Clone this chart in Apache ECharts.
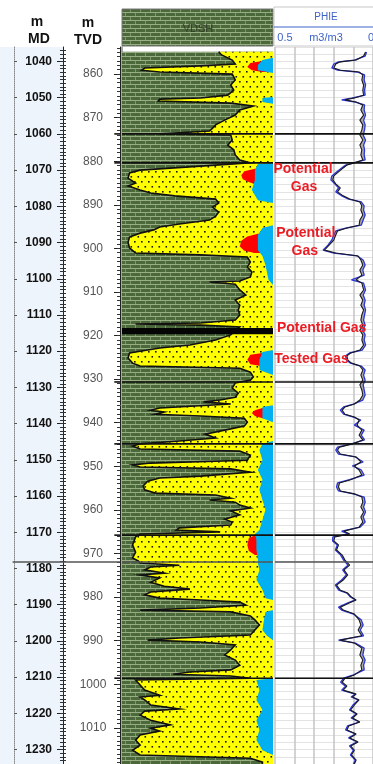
<!DOCTYPE html>
<html><head><meta charset="utf-8">
<script src="https://cdn.jsdelivr.net/npm/echarts@6/dist/echarts.min.js"></script>
<style>html,body{margin:0;padding:0;background:#fff}#c{width:373px;height:764px}</style>
</head><body><div id="c"></div>
<script>
// ---------------- DATA ----------------
const mdTicks = [1040,1050,1060,1070,1080,1090,1100,1110,1120,1130,1140,1150,1160,1170,1180,1190,1200,1210,1220,1230];
const tvdTicks = [860,870,880,890,900,910,920,930,940,950,960,970,980,990,1000,1010];

// VDSH (shale volume, fraction of track, 0 left .. 1 right) vs MD
const vshDepth = [1037.3,1038.2,1039.6,1040.7,1041.2,1041.8,1042.4,1042.9,1043.5,1045.1,1046.5,1047.9,1049.3,1050.1,1050.4,1050.9,1051.5,1052.3,1053.4,1054.8,1056.2,1057.5,1058.4,1059.2,1059.8,1060.0,1060.3,1061.7,1063.1,1064.4,1065.8,1067.2,1068.0,1068.9,1070.0,1070.8,1072.2,1073.6,1074.4,1075.5,1076.3,1077.1,1078.0,1079.1,1080.2,1081.6,1082.7,1083.8,1084.9,1085.7,1086.5,1087.4,1088.5,1089.9,1091.5,1092.9,1093.4,1094.0,1095.4,1096.8,1098.1,1099.5,1100.6,1100.9,1101.5,1103.1,1104.5,1105.9,1107.3,1108.6,1110.0,1111.4,1112.2,1112.5,1112.8,1113.3,1115.5,1116.9,1118.3,1119.1,1120.0,1120.5,1121.9,1123.3,1124.1,1124.7,1125.8,1127.1,1128.0,1128.8,1130.2,1131.6,1132.7,1133.5,1134.0,1134.6,1135.7,1136.3,1136.8,1137.4,1137.9,1138.5,1139.6,1140.7,1141.8,1142.9,1144.0,1144.8,1145.6,1146.2,1147.0,1147.6,1148.7,1150.1,1150.9,1151.4,1152.0,1152.5,1153.4,1154.5,1155.0,1155.9,1157.2,1158.3,1159.2,1159.7,1160.6,1161.1,1161.7,1162.5,1163.3,1164.1,1165.2,1166.4,1167.2,1168.0,1168.8,1169.4,1169.9,1170.5,1171.3,1173.5,1175.5,1177.1,1178.0,1178.5,1179.1,1179.6,1180.4,1181.3,1181.8,1182.6,1183.8,1184.9,1185.7,1186.5,1187.3,1188.2,1188.7,1189.3,1190.1,1190.9,1191.5,1192.0,1193.1,1194.2,1195.6,1197.0,1198.4,1199.2,1199.8,1200.3,1201.1,1202.5,1203.9,1205.3,1206.7,1208.0,1208.6,1209.2,1209.7,1210.3,1210.8,1212.2,1213.6,1215.0,1215.5,1216.3,1217.7,1218.8,1219.4,1220.5,1221.9,1223.2,1224.1,1224.9,1226.0,1227.4,1228.8,1230.2,1231.5,1232.4,1233.5,1234.0];
const vshValue = [0.64,0.66,0.73,0.75,0.52,0.15,0.13,0.25,0.73,0.75,0.72,0.74,0.70,0.52,0.25,0.24,0.72,0.87,0.78,0.75,0.68,0.62,0.60,0.58,0.32,0.25,0.72,0.73,0.70,0.74,0.75,0.78,0.85,0.52,0.12,0.05,0.04,0.09,0.04,0.12,0.19,0.35,0.62,0.64,0.60,0.64,0.62,0.58,0.38,0.25,0.21,0.12,0.05,0.04,0.05,0.09,0.52,0.83,0.85,0.83,0.86,0.85,0.78,0.58,0.75,0.78,0.82,0.75,0.78,0.77,0.78,0.75,0.52,0.09,0.52,0.78,0.72,0.62,0.45,0.25,0.12,0.05,0.04,0.07,0.12,0.78,0.85,0.87,0.85,0.75,0.73,0.77,0.75,0.65,0.54,0.72,0.25,0.19,0.28,0.22,0.52,0.81,0.83,0.81,0.68,0.55,0.62,0.38,0.12,0.07,0.12,0.78,0.85,0.83,0.19,0.07,0.12,0.72,0.85,0.52,0.25,0.17,0.14,0.15,0.22,0.62,0.72,0.58,0.75,0.78,0.85,0.72,0.78,0.68,0.73,0.72,0.38,0.36,0.65,0.12,0.09,0.07,0.09,0.07,0.11,0.12,0.38,0.19,0.15,0.28,0.12,0.25,0.19,0.28,0.45,0.19,0.15,0.25,0.52,0.78,0.82,0.52,0.12,0.72,0.85,0.88,0.91,0.88,0.85,0.38,0.17,0.52,0.75,0.72,0.68,0.75,0.78,0.72,0.45,0.34,0.72,0.85,0.09,0.12,0.15,0.25,0.12,0.15,0.19,0.38,0.15,0.12,0.19,0.32,0.19,0.25,0.12,0.09,0.12,0.07,0.12,0.85,0.93,0.93];

// porosity (blue) left boundary, fraction of track
const poroDepth = [1037.3,1039.0,1039.6,1041.0,1042.4,1043.2,1049.8,1050.1,1051.2,1051.7,1068.0,1068.3,1070.0,1072.7,1075.5,1078.3,1079.1,1085.2,1086.0,1087.9,1092.1,1093.7,1096.2,1100.3,1101.7,1119.7,1120.2,1122.4,1125.2,1126.6,1134.9,1135.4,1138.5,1139.6,1144.8,1145.6,1147.3,1150.1,1152.8,1155.5,1158.3,1161.1,1163.8,1166.6,1169.4,1170.5,1172.1,1174.8,1177.6,1178.5,1180.4,1183.1,1185.9,1188.2,1188.7,1191.5,1192.0,1194.2,1197.0,1198.6,1199.8,1210.3,1210.8,1213.6,1216.3,1219.1,1221.9,1224.6,1227.4,1230.2,1231.5,1234.0];
const poroValue = [1.0,1.0,0.93,0.90,0.90,1.0,1.0,0.93,0.93,1.0,1.0,0.90,0.88,0.88,0.86,0.90,1.0,1.0,0.93,0.90,0.90,0.93,0.95,0.97,1.0,1.0,0.93,0.91,0.91,1.0,1.0,0.93,0.93,1.0,1.0,0.93,0.91,0.93,0.90,0.93,0.91,0.93,0.95,0.93,0.91,0.88,0.89,0.89,0.90,0.90,0.91,0.89,0.93,0.95,1.0,1.0,0.95,0.94,0.93,0.96,1.0,1.0,0.89,0.91,0.89,0.93,0.89,0.91,0.89,0.93,1.0,1.0];

// gas patches: [MD, left edge fraction]
const gasPatch1 = [[1039.9,0.93],[1040.4,0.85],[1041.5,0.83],[1042.4,0.86],[1042.9,0.93]];
const gasPatch2 = [[1069.6,0.88],[1070.3,0.81],[1071.4,0.79],[1072.5,0.80],[1073.3,0.84],[1073.9,0.88]];
const gasPatch3 = [[1087.6,0.90],[1088.3,0.83],[1089.5,0.79],[1091.1,0.78],[1092.3,0.81],[1092.9,0.88]];
const gasPatch4 = [[1120.5,0.93],[1121.0,0.85],[1122.4,0.83],[1123.6,0.85],[1124.1,0.92]];
const gasPatch5 = [[1135.7,0.93],[1136.3,0.88],[1137.1,0.86],[1137.9,0.88],[1138.5,0.93]];
const gasPatch6 = [[1170.8,0.88],[1171.6,0.84],[1173.5,0.83],[1175.2,0.84],[1176.3,0.88]];

const coalTop = [1113.6];
const coalBase = [1115.3];

const topsMD = [1060.0,1068.0,1128.5,1145.6,1170.8,1210.3];
const topGrayMD = [1178.2];

// PHIE curves
const phieDepth = [1037.4,1038.5,1039.6,1040.1,1040.7,1041.8,1042.4,1042.9,1043.7,1045.1,1046.5,1047.9,1049.3,1050.1,1050.6,1051.2,1052.0,1053.4,1054.8,1056.2,1057.5,1058.9,1060.3,1061.7,1063.1,1064.4,1065.8,1067.2,1068.0,1068.6,1069.4,1070.5,1071.6,1072.7,1073.8,1074.9,1076.0,1077.1,1078.0,1078.8,1079.9,1081.0,1082.4,1083.8,1085.2,1086.0,1086.8,1087.9,1089.3,1090.7,1092.1,1092.9,1093.7,1094.8,1096.2,1097.6,1099.0,1100.3,1101.2,1103.1,1104.5,1105.9,1107.3,1108.6,1110.0,1111.4,1112.8,1114.2,1115.5,1116.9,1118.3,1119.7,1120.5,1121.3,1122.4,1123.3,1124.1,1125.2,1126.6,1128.0,1129.3,1130.7,1132.1,1133.5,1134.6,1135.4,1136.3,1137.4,1138.2,1139.0,1140.4,1141.8,1143.2,1144.5,1145.6,1146.5,1147.3,1148.4,1149.2,1150.6,1151.7,1152.8,1154.2,1155.5,1156.4,1157.5,1158.6,1159.4,1160.3,1161.7,1163.0,1164.4,1165.8,1167.2,1168.6,1169.7,1170.5,1171.3,1172.4,1173.5,1174.9,1176.3,1177.7,1179.1,1180.4,1181.8,1183.2,1184.6,1186.0,1186.8,1187.9,1188.7,1189.5,1190.7,1191.5,1192.6,1194.2,1195.6,1197.0,1198.6,1199.8,1200.6,1202.0,1203.9,1205.3,1206.7,1208.0,1209.4,1210.3,1211.4,1212.5,1213.6,1214.7,1215.5,1216.3,1217.7,1219.1,1220.2,1221.3,1222.4,1223.5,1224.6,1225.7,1226.8,1227.9,1229.0,1230.2,1231.5,1232.9,1234.0];
const phieBlack = [0.038,0.048,0.086,0.167,0.190,0.200,0.167,0.071,0.052,0.057,0.048,0.052,0.048,0.095,0.143,0.086,0.052,0.062,0.048,0.067,0.052,0.057,0.067,0.052,0.067,0.057,0.062,0.052,0.095,0.133,0.152,0.176,0.200,0.205,0.190,0.167,0.181,0.152,0.119,0.067,0.057,0.062,0.052,0.067,0.071,0.133,0.181,0.190,0.200,0.224,0.248,0.190,0.076,0.062,0.052,0.067,0.057,0.086,0.057,0.048,0.067,0.052,0.062,0.048,0.057,0.062,0.052,0.067,0.052,0.057,0.048,0.067,0.114,0.133,0.129,0.110,0.067,0.052,0.062,0.052,0.067,0.057,0.052,0.067,0.095,0.143,0.157,0.143,0.095,0.071,0.081,0.057,0.071,0.052,0.105,0.171,0.181,0.167,0.086,0.062,0.095,0.071,0.057,0.114,0.171,0.176,0.167,0.095,0.057,0.052,0.062,0.048,0.062,0.052,0.071,0.148,0.119,0.195,0.200,0.176,0.186,0.157,0.143,0.119,0.148,0.129,0.152,0.186,0.167,0.129,0.110,0.086,0.119,0.167,0.152,0.095,0.071,0.062,0.076,0.057,0.167,0.095,0.057,0.067,0.052,0.062,0.057,0.095,0.143,0.157,0.133,0.152,0.086,0.105,0.071,0.095,0.114,0.081,0.105,0.067,0.124,0.133,0.086,0.119,0.076,0.114,0.095,0.110,0.086,0.095];
const phieBlue = [0.033,0.040,0.095,0.176,0.200,0.210,0.181,0.080,0.043,0.045,0.038,0.043,0.040,0.110,0.160,0.090,0.043,0.045,0.038,0.048,0.040,0.043,0.050,0.038,0.048,0.043,0.045,0.040,0.100,0.140,0.160,0.186,0.210,0.215,0.195,0.176,0.190,0.160,0.124,0.060,0.045,0.048,0.040,0.050,0.060,0.140,0.190,0.200,0.210,0.230,0.255,0.200,0.080,0.050,0.040,0.052,0.045,0.110,0.048,0.038,0.050,0.040,0.045,0.038,0.043,0.048,0.040,0.052,0.040,0.045,0.038,0.055,0.120,0.140,0.136,0.115,0.060,0.040,0.048,0.040,0.050,0.045,0.040,0.052,0.100,0.150,0.167,0.150,0.100,0.062,0.095,0.045,0.060,0.043,0.110,0.181,0.190,0.176,0.090,0.050,0.105,0.060,0.045,0.120,0.181,0.186,0.176,0.100,0.045,0.040,0.048,0.038,0.050,0.040,0.065,0.160,0.125,0.205,0.206,0.182,0.192,0.165,0.150,0.128,0.155,0.136,0.160,0.192,0.175,0.133,0.115,0.090,0.128,0.176,0.160,0.100,0.060,0.050,0.065,0.048,0.176,0.090,0.045,0.052,0.040,0.048,0.045,0.100,0.150,0.165,0.140,0.160,0.090,0.112,0.075,0.102,0.120,0.085,0.112,0.070,0.130,0.140,0.090,0.125,0.080,0.120,0.100,0.115,0.090,0.100];

// annotations
const noteText = ['Potential','Gas','Potential','Gas','Potential Gas','Tested Gas'];
const noteMD = [1069.7,1074.7,1087.4,1092.3,1113.6,1122.2];
const notePhie = [0.357,0.352,0.343,0.348,0.262,0.314];

// ---------------- STYLE HELPERS ----------------
function brickCanvas(){
  const c=document.createElement('canvas'); c.width=10; c.height=8;
  const g=c.getContext('2d');
  g.fillStyle='#4c693b'; g.fillRect(0,0,10,8);
  g.fillStyle='#98ae83'; g.fillRect(0,0,10,1); g.fillRect(0,4,10,1);
  g.fillStyle='#7e9668'; g.fillRect(0,1,1,3); g.fillRect(5,5,1,3);
  return c;
}
function dotCanvas(){
  const c=document.createElement('canvas'); c.width=7; c.height=10;
  const g=c.getContext('2d');
  g.fillStyle='#ffff00'; g.fillRect(0,0,7,10);
  g.fillStyle='#1a1a00';
  g.fillRect(1,1,1.6,1.6); g.fillRect(4.5,6,1.6,1.6);
  return c;
}
const brickPat = {image: brickCanvas(), repeat:'repeat'};
const dotPat = {image: dotCanvas(), repeat:'repeat'};
const FONT = "'Liberation Sans', Arial, sans-serif";
const plain = v => String(v);

const mdMinor=[]; for(let v=1037; v<=1233; v++) mdMinor.push(v);
const tvdMinor=[]; for(let v=854; v<=1018; v++) tvdMinor.push(v);

const gasPatches = [gasPatch1,gasPatch2,gasPatch3,gasPatch4,gasPatch5,gasPatch6];

function renderVdsh(params, api){
  const ch=[];
  const top=vshDepth[0], bot=vshDepth[vshDepth.length-1];
  ch.push({type:'polygon', shape:{points:[api.coord([0,top]),api.coord([1,top]),api.coord([1,bot]),api.coord([0,bot])]}, style:{fill:brickPat}});
  const yPts = vshDepth.map((d,i)=>api.coord([vshValue[i],d]));
  ch.push({type:'polygon', shape:{points:yPts.concat([api.coord([1,bot]),api.coord([1,top])])}, style:{fill:dotPat}});
  gasPatches.forEach(p=>{
    const pts=p.map(q=>api.coord([q[1],q[0]]));
    pts.push(api.coord([1,p[p.length-1][0]]), api.coord([1,p[0][0]]));
    ch.push({type:'polygon', shape:{points:pts}, style:{fill:'#ff0000'}});
  });
  const bPts = poroDepth.map((d,i)=>api.coord([poroValue[i],d]));
  ch.push({type:'polygon', shape:{points:bPts.concat([api.coord([1,poroDepth[poroDepth.length-1]]),api.coord([1,poroDepth[0]])])}, style:{fill:'#00b0f0'}});
  ch.push({type:'polyline', shape:{points:yPts}, style:{stroke:'#111', lineWidth:1.6, fill:null}});
  coalTop.forEach((t,i)=>{
    const a=api.coord([0,t]), b=api.coord([1,coalBase[i]]);
    ch.push({type:'rect', shape:{x:a[0],y:a[1],width:b[0]-a[0],height:b[1]-a[1]}, style:{fill:'#050505'}});
  });
  return {type:'group', children:ch};
}

function renderPhieFill(params, api){
  const a = phieDepth.map((d,i)=>api.coord([phieBlack[i],d]));
  const b = phieDepth.map((d,i)=>api.coord([phieBlue[i],d])).reverse();
  return {type:'polygon', shape:{points:a.concat(b)}, style:{fill:'#a8a8a8'}};
}

function topsRenderer(x0,x1,color,w){
  return function(params, api){
    const d=api.value(1);
    const p1=api.coord([x0,d]), p2=api.coord([x1,d]);
    return {type:'line', shape:{x1:p1[0],y1:p1[1],x2:p2[0],y2:p2[1]}, style:{stroke:color, lineWidth:w}};
  };
}

const GT=47, GH=717;
const chart = echarts.init(document.getElementById('c'), null, {renderer:'canvas', width:373, height:764});
const hidX = (gi)=>({type:'value', gridIndex:gi, min:0, max:1, show:false});
const depthY = (gi, extra)=>Object.assign({type:'value', gridIndex:gi, inverse:true, min:1036, max:1234, axisLine:{show:false,onZero:false}, axisTick:{show:false}, axisLabel:{show:false}, splitLine:{show:false}}, extra||{});

chart.setOption({
  animation:false,
  backgroundColor:'#ffffff',
  grid:[
    {left:0, top:GT, width:63, height:GH, show:true, backgroundColor:'#eef4fb', borderWidth:0},
    {left:63, top:GT, width:57, height:GH, show:false},
    {left:122, top:GT, width:151, height:GH, show:false},
    {left:275, top:GT, width:105, height:GH, show:false}
  ],
  xAxis:[
    hidX(0), hidX(1), hidX(2),
    {type:'value', gridIndex:3, min:0, max:0.5, inverse:true, interval:0.1, axisLine:{show:false}, axisTick:{show:false}, axisLabel:{show:false}, splitLine:{show:true, lineStyle:{color:'#c4c4c4', width:1.5}}}
  ],
  yAxis:[
    // 0 MD main
    depthY(0,{position:'right', axisLine:{show:true,onZero:false,lineStyle:{color:'#222',width:1}},
      axisTick:{show:true, customValues:mdTicks, inside:true, length:6, lineStyle:{color:'#222'}},
      axisLabel:{show:true, customValues:mdTicks, inside:true, margin:11, formatter:plain, color:'#111', fontWeight:'bold', fontSize:12, fontFamily:FONT}}),
    // 1 MD minor right
    depthY(0,{position:'right', axisTick:{show:true, customValues:mdMinor, inside:false, length:3, lineStyle:{color:'#333'}}}),
    // 2 MD minor left
    depthY(0,{position:'right', axisTick:{show:true, customValues:mdMinor, inside:true, length:3, lineStyle:{color:'#333'}}}),
    // 3 MD dotted line
    depthY(0,{position:'left', offset:-14, axisLine:{show:true,onZero:false,lineStyle:{color:'#888',type:'dotted',width:1}},
      axisTick:{show:true, customValues:mdTicks, inside:true, length:3, lineStyle:{color:'#555'}}}),
    // 4 TVD main
    {type:'value', gridIndex:1, inverse:true, min:853.8, max:1018.3, position:'right',
      axisLine:{show:true,onZero:false,lineStyle:{color:'#222',width:1}},
      axisTick:{show:true, customValues:tvdTicks, inside:true, length:6, lineStyle:{color:'#222'}},
      axisLabel:{show:true, customValues:tvdTicks, inside:true, margin:27, align:'center', formatter:plain, color:'#555', fontSize:12, fontFamily:FONT},
      splitLine:{show:false}},
    // 5 TVD minor
    {type:'value', gridIndex:1, inverse:true, min:853.8, max:1018.3, position:'right',
      axisLine:{show:false,onZero:false}, axisTick:{show:true, customValues:tvdMinor, inside:true, length:3, lineStyle:{color:'#333'}},
      axisLabel:{show:false}, splitLine:{show:false}},
    // 6 VDSH
    depthY(2,{position:'left', axisLine:{show:true,onZero:false,lineStyle:{color:'#888',width:1.5}}}),
    // 7 PHIE
    {type:'value', gridIndex:3, inverse:true, min:1036, max:1234, interval:2, axisLine:{show:false,onZero:false}, axisTick:{show:false}, axisLabel:{show:false}, splitLine:{show:true, lineStyle:{color:'#e3e3e3', width:1}}},
    // 8 TVD grid depth axis (MD) for tops
    depthY(1,{position:'left'})
  ],
  series:[
    {type:'custom', name:'VDSH', xAxisIndex:2, yAxisIndex:6, data:[[0.5,1100]], renderItem:renderVdsh, z:2, silent:true},
    {type:'custom', name:'PHIE fill', xAxisIndex:3, yAxisIndex:7, data:[[0.1,1100]], renderItem:renderPhieFill, z:2, silent:true},
    {type:'line', name:'PHIE', xAxisIndex:3, yAxisIndex:7, data:phieDepth.map((d,i)=>[phieBlue[i],d]), showSymbol:false, lineStyle:{color:'#2b35d8', width:1.3}, z:3, silent:true},
    {type:'line', name:'PHIE2', xAxisIndex:3, yAxisIndex:7, data:phieDepth.map((d,i)=>[phieBlack[i],d]), showSymbol:false, lineStyle:{color:'#1a1a1a', width:1.1}, z:4, silent:true},
    {type:'custom', xAxisIndex:2, yAxisIndex:6, data:topsMD.map(d=>[0,d]), renderItem:topsRenderer(0,1,'#111',1.6), z:6, silent:true},
    {type:'custom', xAxisIndex:3, yAxisIndex:7, data:topsMD.map(d=>[0,d]), renderItem:topsRenderer(0,0.5,'#111',1.6), z:6, silent:true},
    {type:'custom', xAxisIndex:1, yAxisIndex:8, data:topsMD.map(d=>[0,d]), renderItem:topsRenderer(0.9,1,'#111',1.6), z:6, silent:true},
    {type:'custom', xAxisIndex:0, yAxisIndex:0, data:topGrayMD.map(d=>[0,d]), renderItem:topsRenderer(0.2,1,'#555',1.5), z:6, silent:true},
    {type:'custom', xAxisIndex:1, yAxisIndex:8, data:topGrayMD.map(d=>[0,d]), renderItem:topsRenderer(0,1,'#555',1.5), z:6, silent:true},
    {type:'custom', xAxisIndex:2, yAxisIndex:6, data:topGrayMD.map(d=>[0,d]), renderItem:topsRenderer(0,1,'#555',1.5), z:6, silent:true},
    {type:'custom', xAxisIndex:3, yAxisIndex:7, data:topGrayMD.map(d=>[0,d]), renderItem:topsRenderer(0,0.5,'#555',1.5), z:6, silent:true},
    {type:'scatter', xAxisIndex:3, yAxisIndex:7, data:noteText.map((t,i)=>[notePhie[i],noteMD[i],t]), symbolSize:1,
      itemStyle:{color:'rgba(0,0,0,0)'}, z:10, silent:true,
      label:{show:true, position:'inside', opacity:1, formatter:p=>p.data[2], color:'#ec1c24', fontWeight:'bold', fontSize:14, fontFamily:FONT}}
  ],
  graphic:[
    {type:'text', x:37, y:22, style:{text:'m', font:'bold 14px '+FONT, fill:'#111', align:'center', verticalAlign:'middle'}},
    {type:'text', x:39, y:39, style:{text:'MD', font:'bold 14px '+FONT, fill:'#111', align:'center', verticalAlign:'middle'}},
    {type:'text', x:88, y:23, style:{text:'m', font:'bold 14px '+FONT, fill:'#111', align:'center', verticalAlign:'middle'}},
    {type:'text', x:88, y:40, style:{text:'TVD', font:'bold 14px '+FONT, fill:'#111', align:'center', verticalAlign:'middle'}},
    {type:'rect', shape:{x:122, y:9, width:151, height:37}, style:{fill:brickPat, stroke:'#777', lineWidth:1}},
    {type:'text', x:198, y:29, style:{text:'VDSH', font:'11px '+FONT, fill:'#28321f', opacity:0.8, align:'center', verticalAlign:'middle'}},
    {type:'rect', shape:{x:274, y:7, width:110, height:39}, style:{fill:'#fff', stroke:'#c8c8c8', lineWidth:1}},
    {type:'text', x:326, y:17, style:{text:'PHIE', font:'10px '+FONT, fill:'#3c64c8', align:'center', verticalAlign:'middle'}},
    {type:'line', shape:{x1:274, y1:27, x2:373, y2:27}, style:{stroke:'#3c64c8', lineWidth:1}},
    {type:'text', x:285, y:38, style:{text:'0.5', font:'11px '+FONT, fill:'#3c64c8', align:'center', verticalAlign:'middle'}},
    {type:'text', x:326, y:38, style:{text:'m3/m3', font:'11px '+FONT, fill:'#3c64c8', align:'center', verticalAlign:'middle'}},
    {type:'text', x:371, y:38, style:{text:'0', font:'11px '+FONT, fill:'#3c64c8', align:'center', verticalAlign:'middle'}}
  ]
});
</script>
</body></html>
